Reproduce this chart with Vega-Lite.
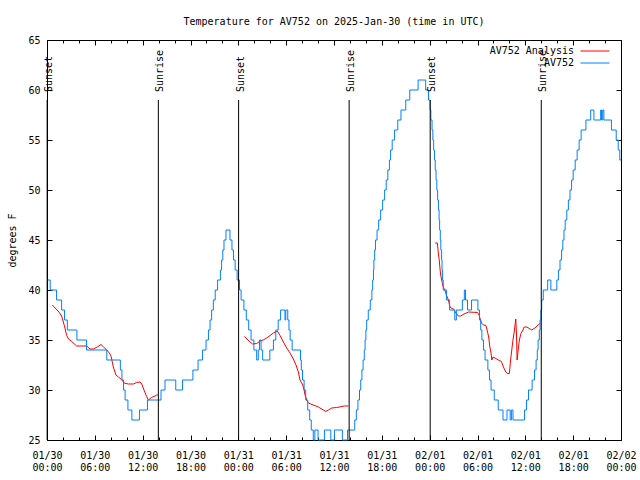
{
"$schema": "https://vega.github.io/schema/vega-lite/v6.json",
"width": 574, "height": 400,
"autosize": {"type": "none"},
"padding": {"left": 47, "top": 40, "right": 19, "bottom": 40},
"background": "white",
"title": {"text": "Temperature for AV752 on 2025-Jan-30 (time in UTC)", "font": "DejaVu Sans Mono", "fontSize": 10, "fontWeight": "normal", "color": "#000", "anchor": "middle", "frame": "group", "baseline": "alphabetic", "offset": 0},
"config": {
  "view": {"stroke": "#000", "strokeWidth": 1},
  "axis": {"domain": false, "grid": false, "tickColor": "#000", "tickWidth": 1, "labelColor": "#000", "labelFont": "DejaVu Sans Mono", "labelFontSize": 10, "titleFont": "DejaVu Sans Mono", "titleFontSize": 10, "titleFontWeight": "normal", "titleColor": "#000"}
},
"resolve": {"axis": {"x": "independent", "y": "independent"}},
"datasets": {
"obs": [
{"t":"2025-01-30T00:00:00Z","v":41},{"t":"2025-01-30T00:24:00Z","v":40},{"t":"2025-01-30T01:12:00Z","v":39},{"t":"2025-01-30T01:50:00Z","v":38},{"t":"2025-01-30T02:12:00Z","v":37},{"t":"2025-01-30T02:33:00Z","v":36},{"t":"2025-01-30T03:45:00Z","v":35},{"t":"2025-01-30T04:57:00Z","v":34},{"t":"2025-01-30T07:30:00Z","v":33},{"t":"2025-01-30T09:12:00Z","v":32},{"t":"2025-01-30T09:24:00Z","v":31},{"t":"2025-01-30T09:36:00Z","v":30},{"t":"2025-01-30T09:48:00Z","v":29},{"t":"2025-01-30T10:09:00Z","v":28},{"t":"2025-01-30T10:39:00Z","v":27},{"t":"2025-01-30T11:36:00Z","v":28},{"t":"2025-01-30T12:36:00Z","v":29},{"t":"2025-01-30T14:18:00Z","v":30},{"t":"2025-01-30T14:48:00Z","v":31},{"t":"2025-01-30T16:09:00Z","v":30},{"t":"2025-01-30T17:00:00Z","v":31},{"t":"2025-01-30T18:18:00Z","v":32},{"t":"2025-01-30T18:57:00Z","v":33},{"t":"2025-01-30T19:30:00Z","v":34},{"t":"2025-01-30T19:57:00Z","v":35},{"t":"2025-01-30T20:15:00Z","v":36},{"t":"2025-01-30T20:27:00Z","v":37},{"t":"2025-01-30T20:39:00Z","v":38},{"t":"2025-01-30T20:52:00Z","v":39},{"t":"2025-01-30T21:06:00Z","v":40},{"t":"2025-01-30T21:24:00Z","v":41},{"t":"2025-01-30T21:45:00Z","v":42},{"t":"2025-01-30T21:54:00Z","v":43},{"t":"2025-01-30T22:03:00Z","v":44},{"t":"2025-01-30T22:12:00Z","v":45},{"t":"2025-01-30T22:27:00Z","v":46},{"t":"2025-01-30T22:57:00Z","v":45},{"t":"2025-01-30T23:12:00Z","v":44},{"t":"2025-01-30T23:24:00Z","v":43},{"t":"2025-01-30T23:36:00Z","v":42},{"t":"2025-01-30T23:51:00Z","v":41},
{"t":"2025-01-31T00:09:00Z","v":40},{"t":"2025-01-31T00:21:00Z","v":39},{"t":"2025-01-31T00:42:00Z","v":38},{"t":"2025-01-31T01:00:00Z","v":37},{"t":"2025-01-31T01:18:00Z","v":36},{"t":"2025-01-31T01:36:00Z","v":35},{"t":"2025-01-31T01:57:00Z","v":34},{"t":"2025-01-31T02:18:00Z","v":33},{"t":"2025-01-31T02:30:00Z","v":34},{"t":"2025-01-31T02:39:00Z","v":35},{"t":"2025-01-31T02:51:00Z","v":34},{"t":"2025-01-31T03:03:00Z","v":33},{"t":"2025-01-31T03:57:00Z","v":34},{"t":"2025-01-31T04:24:00Z","v":35},{"t":"2025-01-31T04:42:00Z","v":36},{"t":"2025-01-31T05:00:00Z","v":37},{"t":"2025-01-31T05:18:00Z","v":38},{"t":"2025-01-31T05:51:00Z","v":37},{"t":"2025-01-31T05:57:00Z","v":38},{"t":"2025-01-31T06:12:00Z","v":37},{"t":"2025-01-31T06:21:00Z","v":36},{"t":"2025-01-31T06:30:00Z","v":35},{"t":"2025-01-31T06:45:00Z","v":34},{"t":"2025-01-31T07:48:00Z","v":33},{"t":"2025-01-31T07:54:00Z","v":32},{"t":"2025-01-31T08:03:00Z","v":31},{"t":"2025-01-31T08:15:00Z","v":30},{"t":"2025-01-31T08:27:00Z","v":29},{"t":"2025-01-31T08:42:00Z","v":28},{"t":"2025-01-31T08:57:00Z","v":27},{"t":"2025-01-31T09:09:00Z","v":26},{"t":"2025-01-31T09:24:00Z","v":25},{"t":"2025-01-31T09:36:00Z","v":26},{"t":"2025-01-31T10:00:00Z","v":25},{"t":"2025-01-31T10:48:00Z","v":26},{"t":"2025-01-31T11:36:00Z","v":25},{"t":"2025-01-31T12:03:00Z","v":26},{"t":"2025-01-31T13:03:00Z","v":25},{"t":"2025-01-31T13:42:00Z","v":26},{"t":"2025-01-31T14:36:00Z","v":27},{"t":"2025-01-31T14:48:00Z","v":28},{"t":"2025-01-31T15:00:00Z","v":29},{"t":"2025-01-31T15:12:00Z","v":30},{"t":"2025-01-31T15:21:00Z","v":31},{"t":"2025-01-31T15:30:00Z","v":32},{"t":"2025-01-31T15:39:00Z","v":33},{"t":"2025-01-31T15:48:00Z","v":34},{"t":"2025-01-31T15:54:00Z","v":35},{"t":"2025-01-31T16:00:00Z","v":36},{"t":"2025-01-31T16:06:00Z","v":37},{"t":"2025-01-31T16:18:00Z","v":38},{"t":"2025-01-31T16:33:00Z","v":39},{"t":"2025-01-31T16:45:00Z","v":40},{"t":"2025-01-31T16:51:00Z","v":41},{"t":"2025-01-31T16:57:00Z","v":42},{"t":"2025-01-31T17:00:00Z","v":43},{"t":"2025-01-31T17:06:00Z","v":44},{"t":"2025-01-31T17:12:00Z","v":45},{"t":"2025-01-31T17:24:00Z","v":46},{"t":"2025-01-31T17:36:00Z","v":47},{"t":"2025-01-31T17:51:00Z","v":48},{"t":"2025-01-31T18:06:00Z","v":49},{"t":"2025-01-31T18:21:00Z","v":50},{"t":"2025-01-31T18:33:00Z","v":51},{"t":"2025-01-31T18:45:00Z","v":52},{"t":"2025-01-31T18:57:00Z","v":53},{"t":"2025-01-31T19:06:00Z","v":54},{"t":"2025-01-31T19:18:00Z","v":55},{"t":"2025-01-31T19:36:00Z","v":56},{"t":"2025-01-31T20:00:00Z","v":57},{"t":"2025-01-31T20:24:00Z","v":58},{"t":"2025-01-31T21:00:00Z","v":59},{"t":"2025-01-31T21:30:00Z","v":60},{"t":"2025-01-31T22:33:00Z","v":61},{"t":"2025-01-31T23:30:00Z","v":60},{"t":"2025-01-31T23:51:00Z","v":59},
{"t":"2025-02-01T00:03:00Z","v":58},{"t":"2025-02-01T00:09:00Z","v":57},{"t":"2025-02-01T00:18:00Z","v":56},{"t":"2025-02-01T00:24:00Z","v":55},{"t":"2025-02-01T00:30:00Z","v":54},{"t":"2025-02-01T00:36:00Z","v":53},{"t":"2025-02-01T00:42:00Z","v":52},{"t":"2025-02-01T00:48:00Z","v":51},{"t":"2025-02-01T00:54:00Z","v":50},{"t":"2025-02-01T01:00:00Z","v":49},{"t":"2025-02-01T01:06:00Z","v":48},{"t":"2025-02-01T01:11:00Z","v":47},{"t":"2025-02-01T01:15:00Z","v":46},{"t":"2025-02-01T01:20:00Z","v":45},{"t":"2025-02-01T01:24:00Z","v":44},{"t":"2025-02-01T01:30:00Z","v":43},{"t":"2025-02-01T01:33:00Z","v":42},{"t":"2025-02-01T01:36:00Z","v":41},{"t":"2025-02-01T01:42:00Z","v":40},{"t":"2025-02-01T02:06:00Z","v":39},{"t":"2025-02-01T02:30:00Z","v":38},{"t":"2025-02-01T03:09:00Z","v":37},{"t":"2025-02-01T03:21:00Z","v":38},{"t":"2025-02-01T04:06:00Z","v":39},{"t":"2025-02-01T04:21:00Z","v":40},{"t":"2025-02-01T04:30:00Z","v":39},{"t":"2025-02-01T04:45:00Z","v":38},{"t":"2025-02-01T05:15:00Z","v":39},{"t":"2025-02-01T06:03:00Z","v":38},{"t":"2025-02-01T06:15:00Z","v":37},{"t":"2025-02-01T06:24:00Z","v":36},{"t":"2025-02-01T06:33:00Z","v":35},{"t":"2025-02-01T06:45:00Z","v":34},{"t":"2025-02-01T06:57:00Z","v":33},{"t":"2025-02-01T07:18:00Z","v":32},{"t":"2025-02-01T07:30:00Z","v":31},{"t":"2025-02-01T07:42:00Z","v":30},{"t":"2025-02-01T08:06:00Z","v":29},{"t":"2025-02-01T08:36:00Z","v":28},{"t":"2025-02-01T09:12:00Z","v":27},{"t":"2025-02-01T09:42:00Z","v":28},{"t":"2025-02-01T10:06:00Z","v":27},{"t":"2025-02-01T10:15:00Z","v":28},{"t":"2025-02-01T10:27:00Z","v":27},{"t":"2025-02-01T11:54:00Z","v":28},{"t":"2025-02-01T12:09:00Z","v":29},{"t":"2025-02-01T12:24:00Z","v":30},{"t":"2025-02-01T12:51:00Z","v":31},{"t":"2025-02-01T13:09:00Z","v":32},{"t":"2025-02-01T13:21:00Z","v":33},{"t":"2025-02-01T13:30:00Z","v":34},{"t":"2025-02-01T13:36:00Z","v":35},{"t":"2025-02-01T13:45:00Z","v":36},{"t":"2025-02-01T13:51:00Z","v":37},{"t":"2025-02-01T13:57:00Z","v":38},{"t":"2025-02-01T14:03:00Z","v":39},{"t":"2025-02-01T14:15:00Z","v":40},{"t":"2025-02-01T14:48:00Z","v":41},{"t":"2025-02-01T15:12:00Z","v":40},{"t":"2025-02-01T15:57:00Z","v":41},{"t":"2025-02-01T16:09:00Z","v":42},{"t":"2025-02-01T16:21:00Z","v":43},{"t":"2025-02-01T16:33:00Z","v":44},{"t":"2025-02-01T16:42:00Z","v":45},{"t":"2025-02-01T16:51:00Z","v":46},{"t":"2025-02-01T17:00:00Z","v":47},{"t":"2025-02-01T17:12:00Z","v":48},{"t":"2025-02-01T17:24:00Z","v":49},{"t":"2025-02-01T17:36:00Z","v":50},{"t":"2025-02-01T17:48:00Z","v":51},{"t":"2025-02-01T18:00:00Z","v":52},{"t":"2025-02-01T18:15:00Z","v":53},{"t":"2025-02-01T18:30:00Z","v":54},{"t":"2025-02-01T18:45:00Z","v":55},{"t":"2025-02-01T19:00:00Z","v":56},{"t":"2025-02-01T19:36:00Z","v":57},{"t":"2025-02-01T20:12:00Z","v":58},{"t":"2025-02-01T20:36:00Z","v":57},{"t":"2025-02-01T21:27:00Z","v":58},{"t":"2025-02-01T21:33:00Z","v":57},{"t":"2025-02-01T21:42:00Z","v":58},{"t":"2025-02-01T21:51:00Z","v":57},{"t":"2025-02-01T22:48:00Z","v":56},{"t":"2025-02-01T23:24:00Z","v":55},{"t":"2025-02-01T23:39:00Z","v":54},{"t":"2025-02-01T23:51:00Z","v":53},{"t":"2025-02-02T00:00:00Z","v":53}
],
"ana": [
{"t":"2025-01-30T00:40:00Z","v":38.5,"g":1},{"t":"2025-01-30T00:54:00Z","v":38.3,"g":1},{"t":"2025-01-30T01:30:00Z","v":37.8,"g":1},{"t":"2025-01-30T01:50:00Z","v":37.4,"g":1},{"t":"2025-01-30T02:03:00Z","v":36.8,"g":1},{"t":"2025-01-30T02:15:00Z","v":36.2,"g":1},{"t":"2025-01-30T02:28:00Z","v":35.45,"g":1},{"t":"2025-01-30T02:42:00Z","v":35.1,"g":1},{"t":"2025-01-30T03:06:00Z","v":34.85,"g":1},{"t":"2025-01-30T03:43:00Z","v":34.4,"g":1},{"t":"2025-01-30T04:59:00Z","v":34.4,"g":1},{"t":"2025-01-30T05:24:00Z","v":34.1,"g":1},{"t":"2025-01-30T05:48:00Z","v":34.1,"g":1},{"t":"2025-01-30T06:18:00Z","v":34.3,"g":1},{"t":"2025-01-30T06:47:00Z","v":34.55,"g":1},{"t":"2025-01-30T07:06:00Z","v":34.3,"g":1},{"t":"2025-01-30T07:30:00Z","v":34.0,"g":1},{"t":"2025-01-30T07:49:00Z","v":33.7,"g":1},{"t":"2025-01-30T08:03:00Z","v":33.35,"g":1},{"t":"2025-01-30T08:19:00Z","v":32.3,"g":1},{"t":"2025-01-30T08:39:00Z","v":31.5,"g":1},{"t":"2025-01-30T08:57:00Z","v":31.3,"g":1},{"t":"2025-01-30T09:21:00Z","v":31.05,"g":1},{"t":"2025-01-30T09:40:00Z","v":30.7,"g":1},{"t":"2025-01-30T10:12:00Z","v":30.6,"g":1},{"t":"2025-01-30T10:50:00Z","v":30.6,"g":1},{"t":"2025-01-30T11:15:00Z","v":30.75,"g":1},{"t":"2025-01-30T11:40:00Z","v":30.8,"g":1},{"t":"2025-01-30T11:53:00Z","v":30.6,"g":1},{"t":"2025-01-30T12:10:00Z","v":30.0,"g":1},{"t":"2025-01-30T12:30:00Z","v":29.35,"g":1},{"t":"2025-01-30T12:43:00Z","v":29.0,"g":1},{"t":"2025-01-30T13:06:00Z","v":29.25,"g":1},{"t":"2025-01-30T13:33:00Z","v":29.4,"g":1},{"t":"2025-01-30T13:46:00Z","v":29.5,"g":1},{"t":"2025-01-30T13:58:00Z","v":29.5,"g":1},
{"t":"2025-01-31T00:46:00Z","v":35.35,"g":2},{"t":"2025-01-31T00:58:00Z","v":35.2,"g":2},{"t":"2025-01-31T01:28:00Z","v":34.8,"g":2},{"t":"2025-01-31T01:48:00Z","v":34.6,"g":2},{"t":"2025-01-31T02:18:00Z","v":34.65,"g":2},{"t":"2025-01-31T02:44:00Z","v":34.9,"g":2},{"t":"2025-01-31T03:08:00Z","v":35.0,"g":2},{"t":"2025-01-31T03:33:00Z","v":35.2,"g":2},{"t":"2025-01-31T03:59:00Z","v":35.45,"g":2},{"t":"2025-01-31T04:24:00Z","v":35.7,"g":2},{"t":"2025-01-31T04:54:00Z","v":35.9,"g":2},{"t":"2025-01-31T05:14:00Z","v":35.45,"g":2},{"t":"2025-01-31T05:39:00Z","v":34.8,"g":2},{"t":"2025-01-31T06:04:00Z","v":34.2,"g":2},{"t":"2025-01-31T06:29:00Z","v":33.7,"g":2},{"t":"2025-01-31T06:54:00Z","v":33.1,"g":2},{"t":"2025-01-31T07:14:00Z","v":32.5,"g":2},{"t":"2025-01-31T07:32:00Z","v":31.8,"g":2},{"t":"2025-01-31T07:44:00Z","v":31.0,"g":2},{"t":"2025-01-31T08:05:00Z","v":30.5,"g":2},{"t":"2025-01-31T08:15:00Z","v":30.0,"g":2},{"t":"2025-01-31T08:22:00Z","v":29.5,"g":2},{"t":"2025-01-31T08:35:00Z","v":29.0,"g":2},{"t":"2025-01-31T08:47:00Z","v":28.7,"g":2},{"t":"2025-01-31T09:24:00Z","v":28.5,"g":2},{"t":"2025-01-31T10:02:00Z","v":28.3,"g":2},{"t":"2025-01-31T10:40:00Z","v":28.0,"g":2},{"t":"2025-01-31T10:58:00Z","v":27.85,"g":2},{"t":"2025-01-31T11:18:00Z","v":28.0,"g":2},{"t":"2025-01-31T11:43:00Z","v":28.2,"g":2},{"t":"2025-01-31T12:21:00Z","v":28.25,"g":2},{"t":"2025-01-31T13:18:00Z","v":28.4,"g":2},{"t":"2025-01-31T13:48:00Z","v":28.4,"g":2},
{"t":"2025-02-01T00:41:00Z","v":44.7,"g":3},{"t":"2025-02-01T00:58:00Z","v":44.7,"g":3},{"t":"2025-02-01T01:06:00Z","v":43.6,"g":3},{"t":"2025-02-01T01:12:00Z","v":43.0,"g":3},{"t":"2025-02-01T01:18:00Z","v":42.1,"g":3},{"t":"2025-02-01T01:23:00Z","v":41.5,"g":3},{"t":"2025-02-01T01:30:00Z","v":41.0,"g":3},{"t":"2025-02-01T01:42:00Z","v":40.3,"g":3},{"t":"2025-02-01T01:54:00Z","v":40.0,"g":3},{"t":"2025-02-01T02:06:00Z","v":39.5,"g":3},{"t":"2025-02-01T02:21:00Z","v":39.0,"g":3},{"t":"2025-02-01T02:33:00Z","v":38.3,"g":3},{"t":"2025-02-01T02:48:00Z","v":38.15,"g":3},{"t":"2025-02-01T03:00:00Z","v":38.1,"g":3},{"t":"2025-02-01T03:12:00Z","v":37.8,"g":3},{"t":"2025-02-01T03:36:00Z","v":37.4,"g":3},{"t":"2025-02-01T03:54:00Z","v":37.4,"g":3},{"t":"2025-02-01T04:18:00Z","v":37.6,"g":3},{"t":"2025-02-01T04:54:00Z","v":37.8,"g":3},{"t":"2025-02-01T06:00:00Z","v":37.75,"g":3},{"t":"2025-02-01T06:12:00Z","v":37.5,"g":3},{"t":"2025-02-01T06:18:00Z","v":37.2,"g":3},{"t":"2025-02-01T06:30:00Z","v":36.7,"g":3},{"t":"2025-02-01T06:45:00Z","v":36.5,"g":3},{"t":"2025-02-01T07:03:00Z","v":36.45,"g":3},{"t":"2025-02-01T07:12:00Z","v":36.0,"g":3},{"t":"2025-02-01T07:24:00Z","v":35.3,"g":3},{"t":"2025-02-01T07:33:00Z","v":34.3,"g":3},{"t":"2025-02-01T07:42:00Z","v":33.7,"g":3},{"t":"2025-02-01T07:48:00Z","v":33.0,"g":3},{"t":"2025-02-01T07:57:00Z","v":33.3,"g":3},{"t":"2025-02-01T08:12:00Z","v":33.2,"g":3},{"t":"2025-02-01T08:36:00Z","v":33.0,"g":3},{"t":"2025-02-01T09:00:00Z","v":32.85,"g":3},{"t":"2025-02-01T09:15:00Z","v":32.3,"g":3},{"t":"2025-02-01T09:33:00Z","v":31.8,"g":3},{"t":"2025-02-01T09:45:00Z","v":31.65,"g":3},{"t":"2025-02-01T10:00:00Z","v":31.65,"g":3},{"t":"2025-02-01T10:09:00Z","v":33.0,"g":3},{"t":"2025-02-01T10:18:00Z","v":34.0,"g":3},{"t":"2025-02-01T10:27:00Z","v":35.0,"g":3},{"t":"2025-02-01T10:36:00Z","v":35.8,"g":3},{"t":"2025-02-01T10:48:00Z","v":37.1,"g":3},{"t":"2025-02-01T10:53:00Z","v":35.7,"g":3},{"t":"2025-02-01T10:58:00Z","v":33.0,"g":3},{"t":"2025-02-01T11:06:00Z","v":34.0,"g":3},{"t":"2025-02-01T11:15:00Z","v":35.0,"g":3},{"t":"2025-02-01T11:27:00Z","v":35.65,"g":3},{"t":"2025-02-01T11:42:00Z","v":36.0,"g":3},{"t":"2025-02-01T11:51:00Z","v":36.3,"g":3},{"t":"2025-02-01T12:12:00Z","v":36.3,"g":3},{"t":"2025-02-01T12:36:00Z","v":36.1,"g":3},{"t":"2025-02-01T12:48:00Z","v":36.0,"g":3},{"t":"2025-02-01T13:12:00Z","v":36.2,"g":3},{"t":"2025-02-01T13:36:00Z","v":36.5,"g":3},{"t":"2025-02-01T13:54:00Z","v":36.7,"g":3}
],
"sun": [
{"t":"2025-01-30T00:01:00Z","e":"Sunset"},{"t":"2025-01-30T13:58:00Z","e":"Sunrise"},{"t":"2025-01-31T00:02:00Z","e":"Sunset"},{"t":"2025-01-31T13:54:00Z","e":"Sunrise"},{"t":"2025-02-01T00:04:00Z","e":"Sunset"},{"t":"2025-02-01T14:00:00Z","e":"Sunrise"}
]
},
"layer": [
{
"data": {"name": "ana"},
"mark": {"type": "line", "strokeWidth": 1},
"encoding": {
  "x": {"field": "t", "type": "temporal", "scale": {"type": "utc", "domain": [1738195200000, 1738454400000], "nice": false},
        "axis": {"orient": "bottom", "title": null, "values": [1738195200000,1738216800000,1738238400000,1738260000000,1738281600000,1738303200000,1738324800000,1738346400000,1738368000000,1738389600000,1738411200000,1738432800000,1738454400000], "tickSize": -5, "labelPadding": 15, "labelExpr": "[utcFormat(datum.value, '%m/%d'), utcFormat(datum.value, '%H:%M')]", "labelLineHeight": 12.5, "labelOverlap": false, "labelFlush": false, "labelBaseline": "top", "labelAlign": "center"}},
  "y": {"field": "v", "type": "quantitative", "scale": {"domain": [25, 65], "nice": false, "zero": false},
        "axis": {"orient": "left", "title": "degrees F", "values": [25, 30, 35, 40, 45, 50, 55, 60, 65], "tickSize": -5, "labelPadding": 12, "titlePadding": 10}},
  "color": {"datum": "AV752 Analysis", "scale": {"domain": ["AV752 Analysis", "AV752"], "range": ["#ff0000", "#0080ff"]},
        "legend": {"title": null, "orient": "none", "legendX": 543, "legendY": 6, "padding": 0, "labelAlign": "right", "labelOffset": -26, "symbolType": "M-4,0H4", "symbolSize": 52.6, "symbolStrokeWidth": 1, "labelFont": "DejaVu Sans Mono", "labelFontSize": 10, "labelColor": "#000", "rowPadding": 2, "labelLimit": 0}},
  "detail": {"field": "g"}
}
},
{
"data": {"name": "obs"},
"mark": {"type": "line", "interpolate": "step-after", "strokeWidth": 1},
"encoding": {
  "x": {"field": "t", "type": "temporal", "scale": {"type": "utc", "domain": [1738195200000, 1738454400000], "nice": false},
        "axis": {"orient": "top", "title": null, "labels": false, "values": [1738195200000,1738216800000,1738238400000,1738260000000,1738281600000,1738303200000,1738324800000,1738346400000,1738368000000,1738389600000,1738411200000,1738432800000,1738454400000], "tickSize": -5}},
  "y": {"field": "v", "type": "quantitative", "scale": {"domain": [25, 65], "nice": false, "zero": false},
        "axis": {"orient": "right", "title": null, "labels": false, "values": [25, 30, 35, 40, 45, 50, 55, 60, 65], "tickSize": -5}},
  "color": {"datum": "AV752"}
}
},
{
"data": {"name": "sun"},
"mark": {"type": "rule", "color": "#000", "strokeWidth": 1},
"encoding": {
  "x": {"field": "t", "type": "temporal", "scale": {"type": "utc", "domain": [1738195200000, 1738454400000], "nice": false},
        "axis": {"orient": "bottom", "title": null, "labels": false, "values": [1738195200000,1738202400000,1738209600000,1738216800000,1738224000000,1738231200000,1738238400000,1738245600000,1738252800000,1738260000000,1738267200000,1738274400000,1738281600000,1738288800000,1738296000000,1738303200000,1738310400000,1738317600000,1738324800000,1738332000000,1738339200000,1738346400000,1738353600000,1738360800000,1738368000000,1738375200000,1738382400000,1738389600000,1738396800000,1738404000000,1738411200000,1738418400000,1738425600000,1738432800000,1738440000000,1738447200000,1738454400000], "tickSize": -3}},
  "y": {"datum": 25, "type": "quantitative", "axis": null},
  "y2": {"datum": 59}
}
},
{
"data": {"name": "sun"},
"mark": {"type": "text", "angle": 270, "align": "left", "baseline": "alphabetic", "dy": 5, "font": "DejaVu Sans Mono", "fontSize": 10, "color": "#000"},
"encoding": {
  "x": {"field": "t", "type": "temporal", "scale": {"type": "utc", "domain": [1738195200000, 1738454400000], "nice": false},
        "axis": {"orient": "top", "title": null, "labels": false, "values": [1738195200000,1738202400000,1738209600000,1738216800000,1738224000000,1738231200000,1738238400000,1738245600000,1738252800000,1738260000000,1738267200000,1738274400000,1738281600000,1738288800000,1738296000000,1738303200000,1738310400000,1738317600000,1738324800000,1738332000000,1738339200000,1738346400000,1738353600000,1738360800000,1738368000000,1738375200000,1738382400000,1738389600000,1738396800000,1738404000000,1738411200000,1738418400000,1738425600000,1738432800000,1738440000000,1738447200000,1738454400000], "tickSize": -3}},
  "y": {"datum": 59.8, "type": "quantitative", "axis": null},
  "text": {"field": "e"}
}
}
]
}
